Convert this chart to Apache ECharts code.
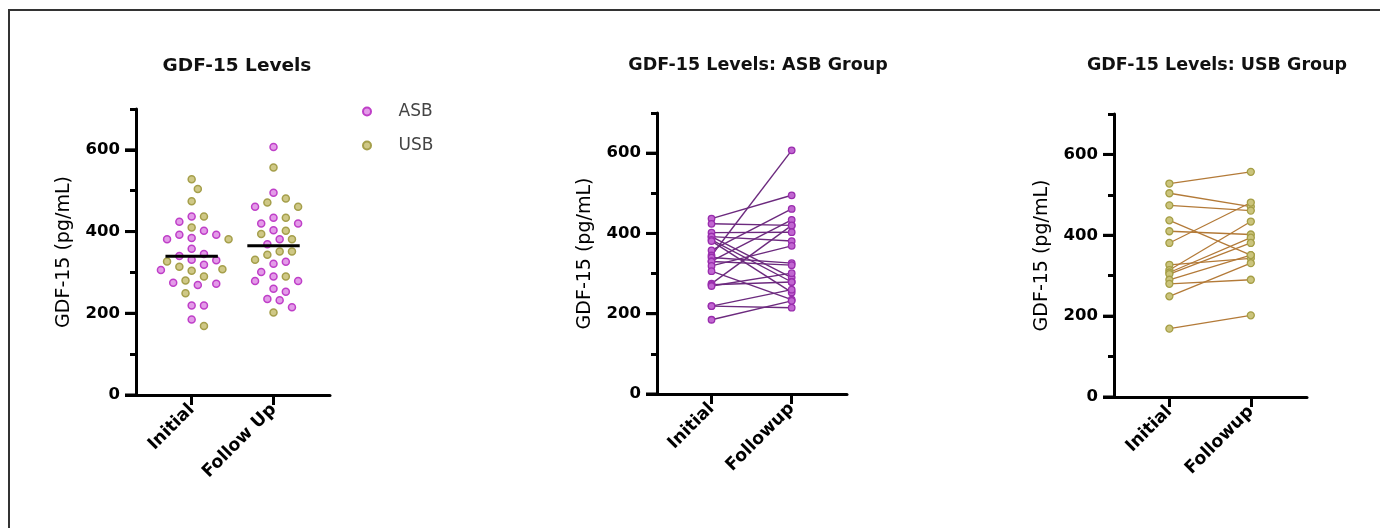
<!DOCTYPE html>
<html><head><meta charset="utf-8">
<script src="https://cdn.jsdelivr.net/npm/echarts@6/dist/echarts.min.js"></script>
<style>html,body{margin:0;padding:0;background:#fff}#c{width:1380px;height:528px}</style>
</head><body><div id="c"></div>
<script>
// ---------- data ----------
const categoriesAll = ['Initial', 'Follow Up'];
const categoriesPaired = ['Initial', 'Followup'];
const yTicks = [0, 200, 400, 600];
const yMinorTicks = [100, 300, 500, 700];
const groupNames = ['ASB', 'USB'];
const titles = ['GDF-15 Levels', 'GDF-15 Levels: ASB Group', 'GDF-15 Levels: USB Group'];
const yName = 'GDF-15 (pg/mL)';
// paired values (index i in Initial pairs with index i in Followup)
const asbInitial  = [437, 424, 402, 392, 392, 384, 381, 358, 345, 340, 331, 330, 319, 306, 275, 272, 269, 219, 219, 185];
const asbFollowup = [495, 420, 403, 381, 290, 279, 253, 461, 607, 326, 434, 321, 369, 235, 420, 279, 301, 260, 215, 232];
const usbInitial  = [528, 504, 474, 437, 410, 381, 327, 314, 308, 304, 290, 280, 249, 169];
const usbFollowup = [557, 471, 461, 351, 402, 481, 343, 434, 394, 381, 351, 290, 331, 202];

// ---------- layout ----------
const FONT = 'DejaVu Sans';
const XMIN = -0.68, XMAX = 1.69, YMAX = 700;
const grids = [
  {left: 136, top: 109, width: 194, height: 286},
  {left: 657, top: 113, width: 190, height: 281},
  {left: 1114, top: 114, width: 193, height: 283}
];
const titleX = [232, 753, 1212];
const titleTop = [52, 51, 51];
const titleSize = [18.5, 17.5, 17.5];
const MAJOR_LEN = 11, MINOR_LEN = 6;

const colASB = {fill: '#e39be8', stroke: '#bf3fc8'};
const colUSB = {fill: '#cfc886', stroke: '#a59f4b'};

// beeswarm placement of points in a column (computed from values)
function swarm(vals, center, g) {
  const pyu = g.height / YMAX, pxc = g.width / (XMAX - XMIN);
  const items = vals.map(o => o).sort((a, b) => b.v - a.v);
  const placed = [];
  const step = 6.15, minD = 10.5;
  items.forEach(it => {
    const y = it.v * pyu;
    let off = 0;
    for (let k = 0; k < 30; k++) {
      const cand = (k % 2 === 1 ? 1 : -1) * Math.ceil(k / 2) * step;
      const hit = placed.some(p => Math.hypot(p.x - cand, p.y - y) < minD);
      if (!hit) { off = cand; break; }
    }
    placed.push({x: off, y});
    it.x = center + off / pxc;
  });
  return items;
}
const col0 = swarm(asbInitial.map(v => ({v, g: 0})).concat(usbInitial.map(v => ({v, g: 1}))), 0, grids[0]);
const col1 = swarm(asbFollowup.map(v => ({v, g: 0})).concat(usbFollowup.map(v => ({v, g: 1}))), 1, grids[0]);
const allPts = col0.concat(col1);
const mean = a => a.reduce((s, v) => s + v, 0) / a.length;
const meanInit = mean(asbInitial.concat(usbInitial));
const meanFollow = mean(asbFollowup.concat(usbFollowup));
const MW = 0.32;

const xAxes = grids.map((g, i) => ({
  type: 'value', gridIndex: i, min: XMIN, max: XMAX,
  axisLine: {show: true, onZero: false, lineStyle: {color: '#000', width: 3}},
  axisTick: {show: true, customValues: [0, 1], length: 10, lineStyle: {color: '#000', width: 3}},
  axisLabel: {show: true, customValues: [0, 1], rotate: 45, margin: 12,
    formatter: v => (i === 0 ? categoriesAll : categoriesPaired)[Math.round(v)],
    fontFamily: FONT, fontWeight: 'bold', fontSize: 17.5, color: '#000'},
  splitLine: {show: false}
}));
const yAxes = [];
grids.forEach((g, i) => {
  // main axis: line, labels
  yAxes.push({
    type: 'value', gridIndex: i, position: 'left', min: 0, max: YMAX, interval: 100,
    name: yName, nameLocation: 'middle', nameGap: 62,
    nameTextStyle: {fontFamily: FONT, fontSize: 19, color: '#000'},
    axisLine: {show: true, onZero: false, lineStyle: {color: '#000', width: 3}},
    axisTick: {show: true, customValues: yTicks, length: MAJOR_LEN, lineStyle: {color: '#000', width: 3}},
    axisLabel: {show: true, customValues: yTicks, margin: 16, fontFamily: FONT, fontWeight: 'bold', fontSize: 16.5, color: '#000'},
    splitLine: {show: false}
  });
  // minor-tick axis: right side moved onto the left edge, ticks pointing left
  yAxes.push({
    type: 'value', gridIndex: i, position: 'right', offset: -g.width, min: 0, max: YMAX, interval: 100,
    axisLine: {show: false, onZero: false},
    axisTick: {show: true, inside: true, customValues: yMinorTicks, length: MINOR_LEN, lineStyle: {color: '#000', width: 3}},
    axisLabel: {show: false},
    splitLine: {show: false}
  });
});

const series = [];
groupNames.forEach((nm, gi) => {
  const c = gi === 0 ? colASB : colUSB;
  series.push({
    name: nm, type: 'scatter', xAxisIndex: 0, yAxisIndex: 0,
    symbol: 'circle', symbolSize: 7,
    itemStyle: {color: c.fill, borderColor: c.stroke, borderWidth: 1.5, opacity: 1},
    data: allPts.filter(p => p.g === gi).map(p => [p.x, p.v])
  });
});
[[0, meanInit], [1, meanFollow]].forEach(([cx, m]) => {
  series.push({
    type: 'line', xAxisIndex: 0, yAxisIndex: 0, symbol: 'none', z: 5,
    lineStyle: {color: '#000', width: 3},
    data: [[cx - MW, m], [cx + MW, m]]
  });
});
asbInitial.forEach((v, i) => {
  series.push({
    type: 'line', xAxisIndex: 1, yAxisIndex: 2, symbol: 'circle', symbolSize: 6.5,
    lineStyle: {color: '#6c2a7e', width: 1.4},
    itemStyle: {color: '#c166d1', borderColor: '#992dad', borderWidth: 1.3},
    data: [[0, v], [1, asbFollowup[i]]]
  });
});
usbInitial.forEach((v, i) => {
  series.push({
    type: 'line', xAxisIndex: 2, yAxisIndex: 4, symbol: 'circle', symbolSize: 7,
    lineStyle: {color: '#b37a38', width: 1.3},
    itemStyle: {color: '#cbc47c', borderColor: '#a59e46', borderWidth: 1.3},
    data: [[0, v], [1, usbFollowup[i]]]
  });
});

const chart = echarts.init(document.getElementById('c'), null, {renderer: 'canvas'});
chart.setOption({
  animation: false,
  backgroundColor: '#fff',
  title: titles.map((t, i) => ({
    text: t, left: titleX[i], top: titleTop[i], textAlign: 'center',
    textStyle: {fontFamily: FONT, fontWeight: 'bold', fontSize: titleSize[i], color: '#111'}
  })),
  legend: {
    data: groupNames, orient: 'vertical', left: 357, top: 98,
    itemWidth: 53, itemHeight: 8, itemGap: 17,
    textStyle: {fontFamily: FONT, fontSize: 17, color: '#444'}
  },
  grid: grids,
  xAxis: xAxes,
  yAxis: yAxes,
  series: series
});

// frame + major y ticks placed through the library's own scales
const extra = [{
  type: 'polyline', silent: true,
  shape: {points: [[9, 528], [9, 10], [1380, 10]]},
  style: {stroke: '#333', lineWidth: 2, fill: null}
}];
grids.forEach((g, i) => {
  yTicks.forEach(t => {
    const p = chart.convertToPixel({gridIndex: i}, [XMIN, t]);
    extra.push({
      type: 'line', silent: true, z: 10,
      shape: {x1: p[0] - MAJOR_LEN, y1: p[1], x2: p[0], y2: p[1]},
      style: {stroke: '#000', lineWidth: 3}
    });
  });
});
chart.setOption({graphic: extra});
</script>
</body></html>
